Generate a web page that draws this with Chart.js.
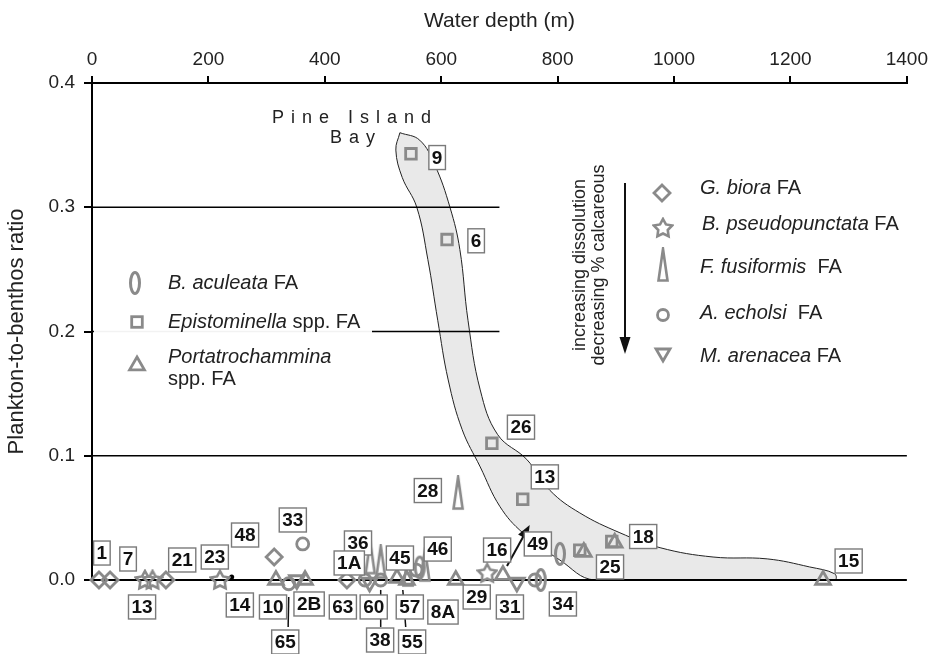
<!DOCTYPE html>
<html><head><meta charset="utf-8">
<script src="https://cdn.jsdelivr.net/npm/chart.js@4"></script>
<style>html,body{margin:0;padding:0;background:#fff}#wrap{width:933px;height:654px;position:relative}</style>
</head><body><div id="wrap"><canvas id="c"></canvas></div>
<script>
const FONT = '"Liberation Sans", Arial, Helvetica, sans-serif';
const GREY = '#8a8a8a';

// ---- axes ----
const xTicks = [0, 200, 400, 600, 800, 1000, 1200, 1400];
const yTicks = [0, 0.1, 0.2, 0.3, 0.4];

// ---- series (water depth m, plankton-to-benthos ratio) ----
const epistomX = [548, 610, 687, 740, 838, 893];
const epistomY = [0.343, 0.274, 0.110, 0.065, 0.024, 0.031];
const portaX = [316, 366, 524, 541, 625, 706, 845, 898, 1256];
const portaY = [0, 0, 0.0015, 0, 0, 0.004, 0.0225, 0.030, 0];
const bioraX = [12, 31, 127, 313, 438];
const bioraY = [0, 0, 0, 0.0185, 0];
const pseudoX = [91, 104, 220, 679];
const pseudoY = [0, 0, 0, 0.0055];
const fusiX = [629, 478, 496, 543, 572];
const fusiY = [0.070, 0.018, 0.0145, 0.008, 0.012];
const echolsiX = [362, 338, 469, 496, 557, 761];
const echolsiY = [0.029, -0.003, 0, 0, 0.008, 0];
const aculeataX = [804, 771, 563];
const aculeataY = [0.021, 0, 0.010];
const arenaceaX = [730, 477, 352];
const arenaceaY = [-0.002, -0.002, 0];
const dotX = [240];
const dotY = [0.0024];

// ---- Pine Island Bay envelope outline ----
const blobX = [529,563,589,615,632,646,667,697,747,787,838,907,976,1067,1160,1233,1276,1276,864,804,740,701,667,636,612,594,577,558,533,522,529];
const blobY = [0.360,0.354,0.334,0.300,0.266,0.209,0.153,0.117,0.097,0.072,0.054,0.038,0.026,0.0185,0.017,0.0105,0.005,0,0,0.016,0.038,0.059,0.091,0.121,0.161,0.209,0.258,0.300,0.324,0.346,0.360];

// ---- horizontal reference lines ----
const refLineY = [0, 0.1, 0.2, 0.3];
const refLineEnd = [1400, 1400, 700, 700];

// ---- station labels ----
const labelText = ['9','6','26','13','28','49','18','25','15','34','31','29','16','8A','57','55','60','38','46','45','36','1A','63','2B','10','65','33','48','14','23','21','13','7','1'];
const labelX = [593,660,737,778,577,766,947,890,1300,809,718,661,696,603,546,550,484,495,594,529,457,442,431,373,311,332,345,263,254,211,155,86,62,17];
const labelY = [0.340,0.273,0.123,0.083,0.072,0.029,0.035,0.0105,0.0153,-0.0193,-0.0217,-0.0137,0.0241,-0.0258,-0.0217,-0.0499,-0.0217,-0.0483,0.0249,0.0177,0.0298,0.0137,-0.0217,-0.0193,-0.0217,-0.0499,0.0483,0.0362,-0.0201,0.0185,0.0161,-0.0217,0.0169,0.0217];

// ---- leader lines ----
const leadX0 = [338, 496, 534];
const leadY0 = [-0.0137, -0.008, -0.008];
const leadX1 = [337, 496, 539];
const leadY1 = [-0.0378, -0.0378, -0.0378];
const arrowX = [713, 752];
const arrowY = [0.0113, 0.0443];

function pts(xs, ys){ return xs.map((v,i)=>({x:v, y:ys[i]})); }
function mk(w,h,draw){ const c=document.createElement('canvas'); c.width=w; c.height=h; const g=c.getContext('2d'); draw(g); return c; }

const ellipseImg = mk(14,26,g=>{ g.strokeStyle=GREY; g.lineWidth=3; g.beginPath(); g.ellipse(7,13,4.5,10.5,0,0,Math.PI*2); g.stroke(); });
const fusiImg = mk(14,36,g=>{ g.strokeStyle=GREY; g.lineWidth=2.6; g.lineJoin='miter'; g.beginPath(); g.moveTo(7,2); g.lineTo(11.5,33.5); g.lineTo(2.5,33.5); g.closePath(); g.stroke(); });
const starImg = mk(22,22,g=>{ g.strokeStyle=GREY; g.lineWidth=2.6; g.beginPath();
  for(let i=0;i<10;i++){ const r = i%2===0 ? 9.5 : 5; const a = -Math.PI/2 + i*Math.PI/5; const px=11+r*Math.cos(a), py=11.5+r*Math.sin(a); i?g.lineTo(px,py):g.moveTo(px,py);} g.closePath(); g.stroke(); });

const common = {showLine:false, clip:false, borderColor:GREY, backgroundColor:'rgba(0,0,0,0)', borderWidth:2.8, order:1};

const datasets = [
  Object.assign({}, common, {label:'Epistominella spp. FA', data:pts(epistomX,epistomY), pointStyle:'rect', pointRadius:7.5}),
  Object.assign({}, common, {label:'Portatrochammina spp. FA', data:pts(portaX,portaY), pointStyle:'triangle', pointRadius:8.5}),
  Object.assign({}, common, {label:'G. biora FA', data:pts(bioraX,bioraY), pointStyle:'rectRot', pointRadius:8}),
  Object.assign({}, common, {label:'B. pseudopunctata FA', data:pts(pseudoX,pseudoY), pointStyle:starImg, pointRadius:9}),
  Object.assign({}, common, {label:'F. fusiformis FA', data:pts(fusiX,fusiY), pointStyle:fusiImg, pointRadius:9}),
  Object.assign({}, common, {label:'A. echolsi FA', data:pts(echolsiX,echolsiY), pointStyle:'circle', pointRadius:6}),
  Object.assign({}, common, {label:'B. aculeata FA', data:pts(aculeataX,aculeataY), pointStyle:ellipseImg, pointRadius:9}),
  Object.assign({}, common, {label:'M. arenacea FA', data:pts(arenaceaX,arenaceaY), pointStyle:'triangle', rotation:180, pointRadius:8.5}),
  {label:'dot', data:pts(dotX,dotY), pointStyle:'circle', pointRadius:2.5, backgroundColor:'#000', borderColor:'#000', borderWidth:0, clip:false, order:1}
];
refLineY.forEach((v,i)=>{
  datasets.push({label:'ref'+i, data:[{x:0,y:v},{x:refLineEnd[i],y:v}], showLine:true, pointRadius:0, borderColor:'#000', borderWidth: v===0?2:1.6, clip:false, order:5});
});
datasets.push({label:'envelope', data:pts(blobX,blobY), showLine:true, pointRadius:0, tension:0.4, fill:'shape', backgroundColor:'#e9e9e9', borderColor:'#222', borderWidth:1, clip:false, order:10});

function rich(ctx, x, y, parts, size){
  let cx = x;
  for(const [t,it] of parts){ ctx.font = (it?'italic ':'')+size+'px '+FONT; ctx.fillText(t, cx, y); cx += ctx.measureText(t).width; }
}

const annot = {
  id:'annot',
  afterDatasetsDraw(chart){
    const {ctx, scales:{x, y}} = chart;
    const X = v=>x.getPixelForValue(v), Y = v=>y.getPixelForValue(v);
    ctx.save();
    // leader lines
    ctx.strokeStyle='#111'; ctx.lineWidth=1.5;
    leadX0.forEach((v,i)=>{ ctx.beginPath(); ctx.moveTo(X(v),Y(leadY0[i])); ctx.lineTo(X(leadX1[i]),Y(leadY1[i])); ctx.stroke(); });
    // arrow 16 -> 49
    const ax0=X(arrowX[0]), ay0=Y(arrowY[0]), ax1=X(arrowX[1]), ay1=Y(arrowY[1]);
    const ang=Math.atan2(ay1-ay0, ax1-ax0);
    ctx.lineWidth=2; ctx.beginPath(); ctx.moveTo(ax0,ay0); ctx.lineTo(ax1-10*Math.cos(ang), ay1-10*Math.sin(ang)); ctx.stroke();
    ctx.fillStyle='#111'; ctx.beginPath(); ctx.moveTo(ax1,ay1);
    ctx.lineTo(ax1-14*Math.cos(ang)+5.5*Math.sin(ang), ay1-14*Math.sin(ang)-5.5*Math.cos(ang));
    ctx.lineTo(ax1-14*Math.cos(ang)-5.5*Math.sin(ang), ay1-14*Math.sin(ang)+5.5*Math.cos(ang)); ctx.closePath(); ctx.fill();

    // station labels
    ctx.font = 'bold 19px '+FONT; ctx.textAlign='center'; ctx.textBaseline='middle';
    labelText.forEach((t,i)=>{
      const px=X(labelX[i]), py=Y(labelY[i]);
      const w=ctx.measureText(t).width+6, h=24;
      ctx.fillStyle='#fff'; ctx.fillRect(px-w/2,py-h/2,w,h);
      ctx.strokeStyle='#7a7a7a'; ctx.lineWidth=1.4; ctx.strokeRect(px-w/2,py-h/2,w,h);
      ctx.fillStyle='#111'; ctx.fillText(t,px,py+1);
    });

    // Pine Island Bay
    ctx.fillStyle='#222'; ctx.font='18px '+FONT; ctx.textAlign='left'; ctx.textBaseline='middle';
    ctx.letterSpacing='7px';
    ctx.fillText('Pine Island', 272, 118);
    ctx.fillText('Bay', 330, 138);
    ctx.letterSpacing='0px';

    // left legend (white backing)
    ctx.fillStyle='rgba(255,255,255,0.95)'; ctx.fillRect(94,266,278,124);
    ctx.drawImage(ellipseImg, 135-7, 283-13);
    ctx.strokeStyle=GREY; ctx.lineWidth=2.8;
    ctx.strokeRect(137-5.3,322-5.3,10.6,10.6);
    ctx.beginPath(); ctx.moveTo(137,357); ctx.lineTo(144.4,369.8); ctx.lineTo(129.6,369.8); ctx.closePath(); ctx.stroke();
    ctx.fillStyle='#222'; ctx.textBaseline='middle';
    rich(ctx,168,283,[['B. aculeata',true],[' FA',false]],20);
    rich(ctx,168,322,[['Epistominella',true],[' spp. FA',false]],20);
    rich(ctx,168,357,[['Portatrochammina',true]],20);
    rich(ctx,168,379,[['spp. FA',false]],20);

    // right legend
    ctx.strokeStyle=GREY; ctx.lineWidth=2.8;
    ctx.beginPath(); ctx.moveTo(662,185); ctx.lineTo(670,193); ctx.lineTo(662,201); ctx.lineTo(654,193); ctx.closePath(); ctx.stroke();
    ctx.drawImage(starImg, 663-11, 228-11);
    ctx.drawImage(fusiImg, 663-7, 265-18);
    ctx.beginPath(); ctx.arc(663,315,5.5,0,Math.PI*2); ctx.stroke();
    ctx.beginPath(); ctx.moveTo(663,361); ctx.lineTo(670,349); ctx.lineTo(656,349); ctx.closePath(); ctx.stroke();
    ctx.fillStyle='#222';
    rich(ctx,700,188,[['G. biora',true],[' FA',false]],20);
    rich(ctx,702,224,[['B. pseudopunctata',true],[' FA',false]],20);
    rich(ctx,700,267,[['F. fusiformis',true],['  FA',false]],20);
    rich(ctx,700,313,[['A. echolsi',true],['  FA',false]],20);
    rich(ctx,700,356,[['M. arenacea',true],[' FA',false]],20);

    // dissolution arrow + rotated text
    ctx.strokeStyle='#111'; ctx.lineWidth=2;
    ctx.beginPath(); ctx.moveTo(625,183); ctx.lineTo(625,340); ctx.stroke();
    ctx.fillStyle='#111'; ctx.beginPath(); ctx.moveTo(625,354); ctx.lineTo(619.5,337); ctx.lineTo(630.5,337); ctx.closePath(); ctx.fill();
    ctx.save(); ctx.translate(580,265); ctx.rotate(-Math.PI/2);
    ctx.fillStyle='#222'; ctx.font='18px '+FONT; ctx.textAlign='center'; ctx.textBaseline='middle';
    ctx.fillText('increasing dissolution',0,0);
    ctx.fillText('decreasing % calcareous',0,19);
    ctx.restore();
    ctx.restore();
  }
};

new Chart(document.getElementById('c'), {
  type:'scatter',
  data:{datasets},
  options:{
    responsive:true, maintainAspectRatio:false, animation:false,
    layout:{padding:{left:0,right:26,top:0,bottom:74}},
    plugins:{legend:{display:false}, tooltip:{enabled:false}},
    scales:{
      x:{type:'linear', position:'top', min:0, max:1400,
        afterBuildTicks:s=>{ s.ticks = xTicks.map(v=>({value:v})); },
        afterFit:s=>{ s.height = 83; },
        ticks:{font:{family:FONT,size:19}, color:'#222', padding:5, maxRotation:0, callback:v=>String(v)},
        grid:{drawOnChartArea:false, tickLength:7, color:'#000', lineWidth:2},
        border:{color:'#000', width:2},
        title:{display:true, text:'Water depth (m)', font:{family:FONT,size:21}, color:'#222', padding:{top:9,bottom:0}}
      },
      y:{type:'linear', position:'left', min:0, max:0.4,
        afterBuildTicks:s=>{ s.ticks = yTicks.map(v=>({value:v})); },
        afterFit:s=>{ s.width = 92; },
        ticks:{font:{family:FONT,size:19}, color:'#222', padding:9, callback:v=>Number(v).toFixed(1)},
        grid:{drawOnChartArea:false, tickLength:8, color:'#000', lineWidth:2},
        border:{color:'#000', width:2},
        title:{display:true, text:'Plankton-to-benthos ratio', font:{family:FONT,size:22}, color:'#222', padding:{top:4,bottom:0}}
      }
    }
  },
  plugins:[annot]
});
</script></body></html>
